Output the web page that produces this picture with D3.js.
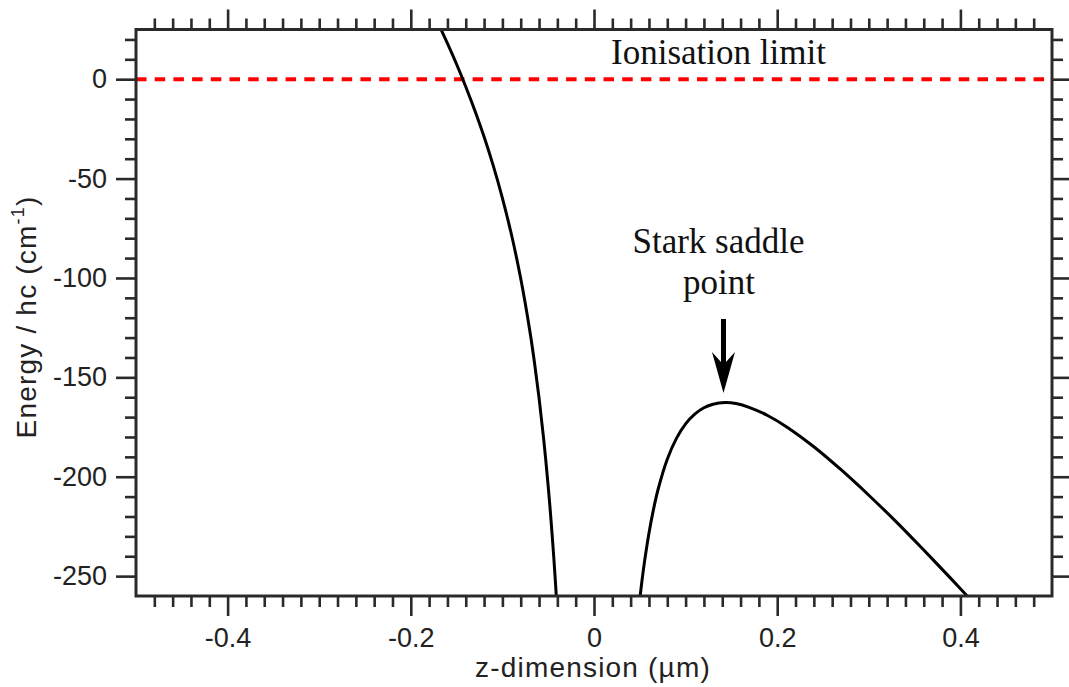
<!DOCTYPE html>
<html><head><meta charset="utf-8">
<script src="https://cdn.jsdelivr.net/npm/d3@7"></script>
<style>body{margin:0;background:#fff}</style>
</head><body><svg id="c" width="1069" height="687"></svg>
<script>
// ---- data ----
const xMajorTicks = [-0.4, -0.2, 0, 0.2, 0.4];
const xTickLabels = ["-0.4", "-0.2", "0", "0.2", "0.4"];
const yMajorTicks = [0, -50, -100, -150, -200, -250];
const yTickLabels = ["0", "-50", "-100", "-150", "-200", "-250"];

// left branch of the potential (z < 0)
const leftZ = [-0.168, -0.16, -0.15, -0.14, -0.13, -0.12, -0.11, -0.10, -0.09, -0.08, -0.07, -0.065, -0.06, -0.055, -0.05, -0.047, -0.044, -0.042, -0.040];
const leftE = [26.0, 18.0, 7.5, -3.8, -15.9, -29.0, -43.5, -59.8, -78.4, -100.3, -126.8, -142.5, -160.3, -180.8, -204.8, -221.4, -240.0, -253.8, -268.8];

// right branch of the potential (z > 0), with the Stark saddle point
const rightZ = [0.0495, 0.052, 0.055, 0.06, 0.065, 0.07, 0.08, 0.09, 0.10, 0.11, 0.12, 0.13, 0.143, 0.155, 0.17, 0.19, 0.21, 0.24, 0.27, 0.30, 0.33, 0.36, 0.39, 0.41];
const rightE = [-263.7, -253.7, -243.2, -228.4, -216.3, -206.3, -191.2, -180.7, -173.4, -168.5, -165.3, -163.5, -162.7, -163.2, -165.2, -169.3, -174.8, -184.9, -196.6, -209.3, -222.7, -236.9, -251.4, -261.3];

const ionisationLimit = 0;
const saddleZ = 0.143, saddleE = -162.7;
const xDomain = [-0.5, 0.5];
const yDomain = [-260, 25];

// ---- layout ----
const L = 136, R = 1052, T = 29.5, B = 596;
const svg = d3.select("#c");
const x = d3.scaleLinear().domain(xDomain).range([L, R]);
const y = d3.scaleLinear().domain(yDomain).range([B, T]);

const axisColor = "#2a2a2a";
const xMinor = d3.range(-24, 25).map(i => +(i * 0.02).toFixed(2)).filter(v => !xMajorTicks.includes(v));
const yMinor = d3.range(-25, 3).map(i => i * 10).filter(v => !yMajorTicks.includes(v));

function style(g, labels) {
  g.select(".domain").remove();
  g.selectAll(".tick line").attr("stroke", axisColor).attr("stroke-width", 2.6);
  g.attr("font-family", "'Liberation Sans', Arial, Helvetica, sans-serif").attr("font-size", 27);
  g.selectAll(".tick text").attr("fill", "#222");
}

// bottom
svg.append("g").attr("transform", `translate(0,${B})`)
  .call(d3.axisBottom(x).tickValues(xMinor).tickSize(11).tickFormat("")).call(style);
svg.append("g").attr("transform", `translate(0,${B})`)
  .call(d3.axisBottom(x).tickValues(xMajorTicks).tickSize(20).tickPadding(11.5).tickFormat((d, i) => xTickLabels[i])).call(style);
// top
svg.append("g").attr("transform", `translate(0,${T})`)
  .call(d3.axisTop(x).tickValues(xMinor).tickSize(11).tickFormat("")).call(style);
svg.append("g").attr("transform", `translate(0,${T})`)
  .call(d3.axisTop(x).tickValues(xMajorTicks).tickSize(20).tickFormat("")).call(style);
// left
svg.append("g").attr("transform", `translate(${L},0)`)
  .call(d3.axisLeft(y).tickValues(yMinor).tickSize(11).tickFormat("")).call(style);
svg.append("g").attr("transform", `translate(${L},0)`)
  .call(d3.axisLeft(y).tickValues(yMajorTicks).tickSize(20).tickPadding(9).tickFormat((d, i) => yTickLabels[i])).call(style);
// right
svg.append("g").attr("transform", `translate(${R},0)`)
  .call(d3.axisRight(y).tickValues(yMinor).tickSize(11).tickFormat("")).call(style);
svg.append("g").attr("transform", `translate(${R},0)`)
  .call(d3.axisRight(y).tickValues(yMajorTicks).tickSize(20).tickFormat("")).call(style);

// clip
svg.append("clipPath").attr("id", "clip").append("rect")
  .attr("x", L).attr("y", T).attr("width", R - L).attr("height", B - T);

const plot = svg.append("g").attr("clip-path", "url(#clip)");

// ionisation limit line
plot.append("line")
  .attr("x1", x(xDomain[0])).attr("x2", x(xDomain[1]))
  .attr("y1", y(ionisationLimit)).attr("y2", y(ionisationLimit))
  .attr("stroke", "#ff0000").attr("stroke-width", 4).attr("stroke-dasharray", "10.5,8.2");

const line = d3.line().x(d => x(d[0])).y(d => y(d[1])).curve(d3.curveCatmullRom.alpha(0.5));
plot.append("path").datum(leftZ.map((z, i) => [z, leftE[i]]))
  .attr("d", line).attr("fill", "none").attr("stroke", "#000").attr("stroke-width", 3);
plot.append("path").datum(rightZ.map((z, i) => [z, rightE[i]]))
  .attr("d", line).attr("fill", "none").attr("stroke", "#000").attr("stroke-width", 3);

// frame
svg.append("rect").attr("x", L).attr("y", T).attr("width", R - L).attr("height", B - T)
  .attr("fill", "none").attr("stroke", axisColor).attr("stroke-width", 3);

// annotations
const serif = "'Liberation Serif', 'Times New Roman', Times, serif";
svg.append("text").attr("x", 718.5).attr("y", 64).attr("text-anchor", "middle")
  .attr("font-family", serif).attr("font-size", 35).attr("fill", "#111").text("Ionisation limit");
svg.append("text").attr("x", 718.5).attr("y", 253).attr("text-anchor", "middle")
  .attr("font-family", serif).attr("font-size", 35).attr("fill", "#111").text("Stark saddle");
svg.append("text").attr("x", 719).attr("y", 294).attr("text-anchor", "middle")
  .attr("font-family", serif).attr("font-size", 35).attr("fill", "#111").text("point");

// arrow to the saddle point
const cx = x(saddleZ) - 1.5, tip = y(saddleE) - 9.5;
svg.append("path")
  .attr("d", `M${cx - 2.5},${tip - 74} L${cx + 2.5},${tip - 74} L${cx + 2.5},${tip - 31} L${cx + 11.5},${tip - 41} L${cx},${tip} L${cx - 11.5},${tip - 41} L${cx - 2.5},${tip - 31} Z`)
  .attr("fill", "#000");

// axis titles
const sans = "'Liberation Sans', Arial, Helvetica, sans-serif";
svg.append("text").attr("x", 593).attr("y", 677).attr("text-anchor", "middle")
  .attr("font-family", sans).attr("font-size", 28).attr("letter-spacing", 1.2).attr("fill", "#222")
  .text("z-dimension (µm)");

const yt = svg.append("text").attr("transform", "translate(36,317) rotate(-90)")
  .attr("text-anchor", "middle").attr("font-family", sans).attr("font-size", 28)
  .attr("letter-spacing", 1.2).attr("fill", "#222");
yt.append("tspan").text("Energy / hc (cm");
yt.append("tspan").attr("font-size", 18).attr("dy", -12).text("-1");
yt.append("tspan").attr("dy", 12).text(")");
</script>
</body></html>
